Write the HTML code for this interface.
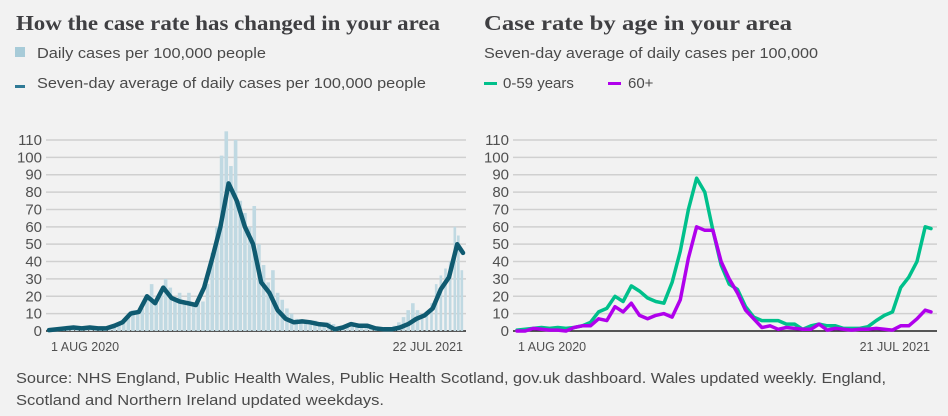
<!DOCTYPE html>
<html><head><meta charset="utf-8"><style>
body{margin:0;background:#f2f2f2;}
svg{display:block;font-family:"Liberation Sans",sans-serif;}
</style></head><body>
<svg id="s" width="948" height="416" viewBox="0 0 948 416">
<rect width="948" height="416" fill="#f2f2f2"/>
<text x="16" y="30" font-family="Liberation Serif,serif" font-weight="bold" font-size="21" fill="#3f3f42" textLength="424" lengthAdjust="spacingAndGlyphs">How the case rate has changed in your area</text>
<rect x="15" y="47" width="10" height="10" fill="#a7cbd8"/>
<text x="37" y="58" font-size="15" fill="#4a4a4a" textLength="229" lengthAdjust="spacingAndGlyphs">Daily cases per 100,000 people</text>
<rect x="15" y="85" width="10" height="3" fill="#2f7a96"/>
<text x="37" y="88" font-size="15" fill="#4a4a4a" textLength="389" lengthAdjust="spacingAndGlyphs">Seven-day average of daily cases per 100,000 people</text>
<text x="484" y="30" font-family="Liberation Serif,serif" font-weight="bold" font-size="21" fill="#3f3f42" textLength="308" lengthAdjust="spacingAndGlyphs">Case rate by age in your area</text>
<text x="484" y="58" font-size="15" fill="#4a4a4a" textLength="334" lengthAdjust="spacingAndGlyphs">Seven-day average of daily cases per 100,000</text>
<rect x="484" y="82" width="13" height="3" fill="#00c08b"/>
<text x="503" y="88" font-size="15" fill="#4a4a4a">0-59 years</text>
<rect x="608" y="82" width="13" height="3" fill="#b000ec"/>
<text x="628" y="88" font-size="15" fill="#4a4a4a">60+</text>
<text x="16" y="383" font-size="15" fill="#4a4a4a" textLength="870" lengthAdjust="spacingAndGlyphs">Source: NHS England, Public Health Wales, Public Health Scotland, gov.uk dashboard. Wales updated weekly. England,</text>
<text x="16" y="405" font-size="15" fill="#4a4a4a" textLength="368" lengthAdjust="spacingAndGlyphs">Scotland and Northern Ireland updated weekdays.</text>
<g id="L"></g><g id="R"></g>
</svg>
<script>
const yTicks=[0,10,20,30,40,50,60,70,80,90,100,110];
const weekDays=[0,7,14,21,28,35,42,49,56,63,70,77,84,91,98,105,112,119,126,133,140,147,154,161,168,175,182,189,196,203,210,217,224,231,238,245,252,259,266,273,280,287,294,301,308,315,322,329,336,343,350,355];
const avgValues=[0.5,1,1.5,2,1.5,2,1.5,1.5,3,5,10,11,20,16,25,19,17,16,15,25,42,60,85,75,60,50,28,22,12,7,5,5.5,5,4,3.5,1,2,4,3,3,1.5,1,1,2,4,7,9,13,24,31,50,45];
const barDays=[0,4,8,12,16,20,24,28,32,36,40,44,48,52,56,60,64,68,72,76,80,84,88,92,96,100,104,108,112,116,120,124,128,132,136,140,144,148,152,156,160,164,168,172,176,180,184,188,192,196,200,204,208,212,216,220,224,228,232,236,240,244,248,252,256,260,264,268,272,276,280,284,288,292,296,300,304,308,312,316];
const barValues=[1,1,2,1,3,2,2,2,2,2,2,1,2,2,3,4,6,9,12,11,13,20,27,16,22,30,25,19,22,16,22,15,16,17,27,45,60,101,115,95,110,75,68,60,72,50,38,28,35,22,18,13,10,7,6,5,6,6,5,4,5,4,2,1,2,4,4,3,3,2,1,2,1,2,3,5,8,12,16,12];
const barDays2=[320,324,328,332,336,340,344,348,351,354];
const barValues2=[8,10,16,27,32,36,40,60,55,35];
const youngValues=[0.5,1,1.5,2,1.5,2,1.5,2,3,5,11,13,20,17,26,23,19,17,16,28,46,70,88,80,58,38,27,24,14,8,6,6,6,4,4,1,3,4,3,3,1.5,1.5,1.5,2.5,6,9,11,25,31,40,60,59];
const oldValues=[0,0,1.5,1,0.5,0.5,0,2,3,3,7,6,14,11,16,9,7,9,10,8,18,42,60,58,58,40,30,22,12,7,2,3,1,2,1.5,1,1,4,0.5,1.5,1,0.5,1,1,1.5,1,0.5,3,3,7,12,11];
const NS="http://www.w3.org/2000/svg";
function mk(t,a,p){const e=document.createElementNS(NS,t);for(const k in a)e.setAttribute(k,a[k]);p.appendChild(e);return e;}
const yBase=331,yTop=140;
function yS(v){return yBase-(v/110)*(yBase-yTop);}
function axes(g,x0,x1,lblX,d1,d1x,prefix){
  yTicks.forEach(t=>{
    const l=mk('line',{x1:x0,x2:x1,y1:yS(t),y2:yS(t),stroke:t===0?'#222':'#d0d0d0','stroke-width':1.5},g);
    
    
    const tx=mk('text',{x:lblX,y:yS(t)+5,'text-anchor':'end','font-size':15,fill:'#505050'},g);
    tx.textContent=t;
    
    
  });
  const a=mk('text',{x:x0+5,y:351,'font-size':12.5,fill:'#505050'},g);a.textContent='1 AUG 2020';
  
  
  const b=mk('text',{x:d1x,y:351,'font-size':12.5,fill:'#505050','text-anchor':'end'},g);b.textContent=d1;
  
  
}
function line(g,xs,days,vals,col,w,name){
  const d=days.map((dd,i)=>(i?'L':'M')+xs(dd).toFixed(1)+' '+yS(vals[i]).toFixed(1)).join(' ');
  const p=mk('path',{d:d,fill:'none',stroke:col,'stroke-width':w,'stroke-linejoin':'round','stroke-linecap':'round'},g);
  
  
}
const L=document.getElementById('L');
axes(L,46,466,42,'22 JUL 2021',463,'left');
const xL=d=>49+d*(463-49)/355;
barDays.forEach((d,i)=>{const v=barValues[i];const r=mk('rect',{x:xL(d)-1.8,y:yS(v),width:3.6,height:yBase-yS(v),fill:'#c0d9e2'},L);

});
barDays2.forEach((d,i)=>{const v=barValues2[i];const r=mk('rect',{x:xL(d)-1.3,y:yS(v),width:2.6,height:yBase-yS(v),fill:'#c0d9e2'},L);

});
line(L,xL,weekDays,avgValues,'#0f5a70',4.5,'seven-day-average-line');
const R=document.getElementById('R');
axes(R,513,937,509,'21 JUL 2021',930,'right');
const xR=d=>517+d*(931-517)/355;
line(R,xR,weekDays,youngValues,'#00c08b',3.5,'age-0-59-line');
line(R,xR,weekDays,oldValues,'#b000ec',3.5,'age-60-plus-line');
</script>
</body></html>
